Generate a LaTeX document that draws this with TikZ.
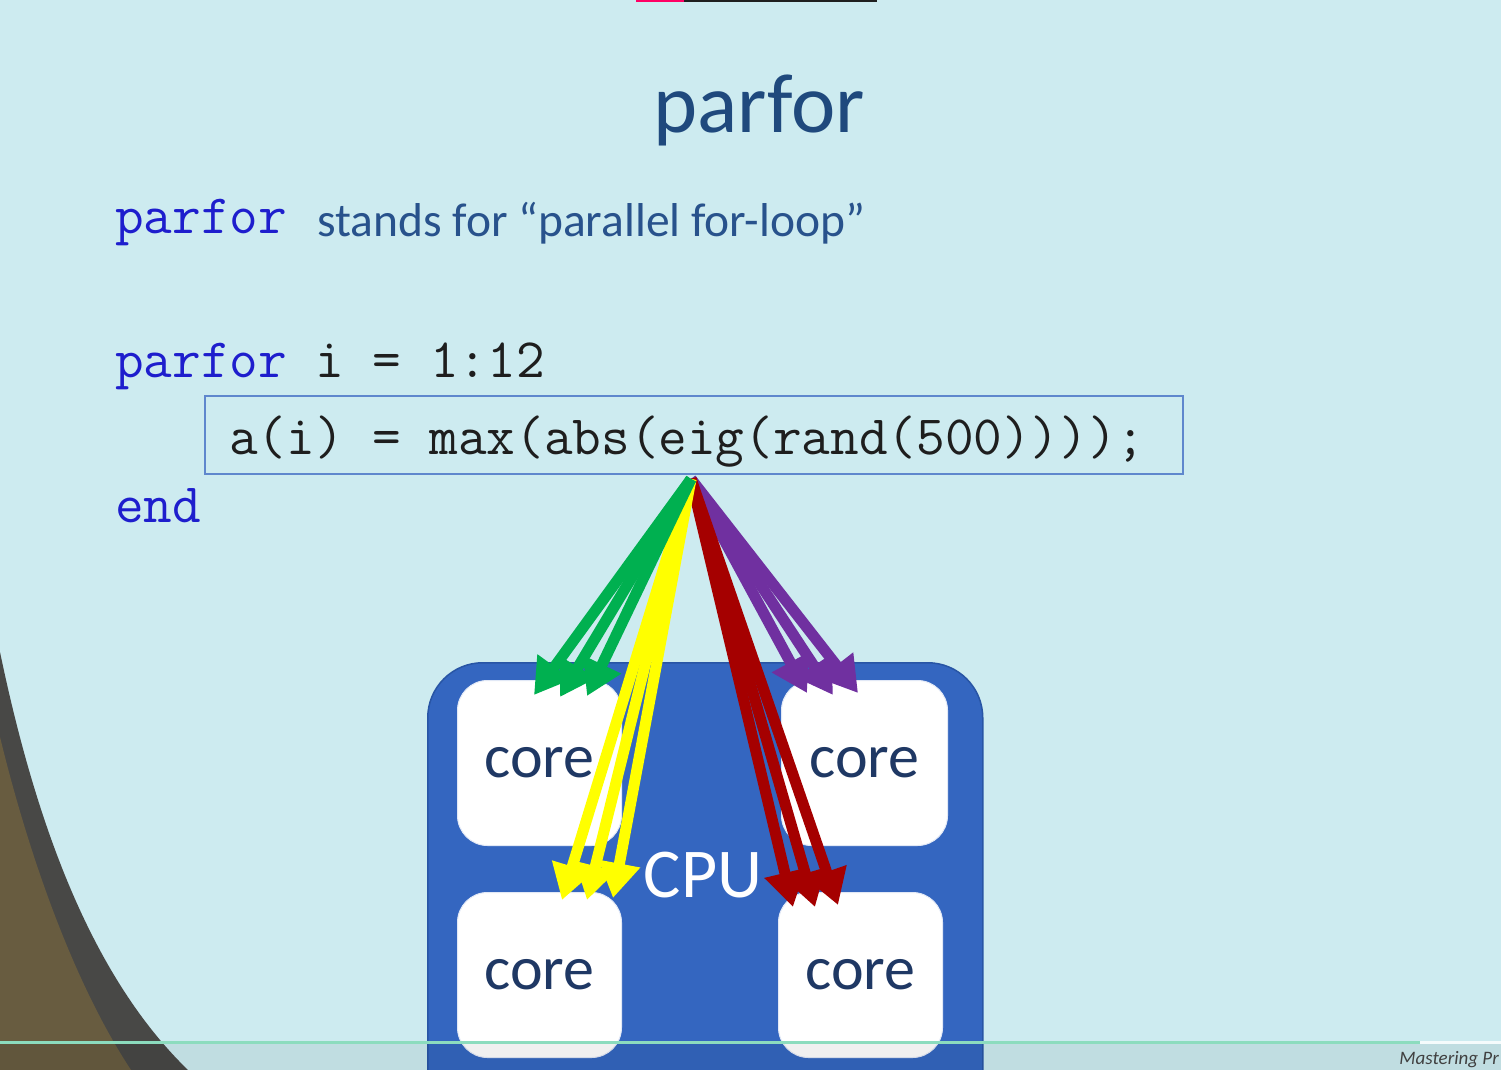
\documentclass[tikz,border=0pt]{standalone}
\usepackage{fontspec}
\setmainfont{Carlito}
\usetikzlibrary{arrows.meta}

\definecolor{slidebg}{RGB}{205,235,240}
\definecolor{titleblue}{RGB}{31,73,125}
\definecolor{descblue}{RGB}{40,82,140}
\definecolor{kwblue}{RGB}{30,30,205}
\definecolor{codegray}{RGB}{30,30,30}
\definecolor{boxline}{RGB}{95,135,205}
\definecolor{cpublue}{RGB}{52,102,192}
\definecolor{cpuedge}{RGB}{40,85,165}
\definecolor{corenavy}{RGB}{31,56,100}
\definecolor{agreen}{RGB}{0,176,80}
\definecolor{ayellow}{RGB}{255,255,0}
\definecolor{ared}{RGB}{165,0,0}
\definecolor{apurple}{RGB}{112,48,160}
\definecolor{hillbrown}{RGB}{104,92,64}
\definecolor{hilldark}{RGB}{72,72,70}
\definecolor{barpink}{RGB}{255,0,100}
\definecolor{bargreen}{RGB}{140,220,190}

\newcommand{\kw}[1]{\textcolor{kwblue}{#1}}

\tikzset{
  mono/.style={font=\fontsize{55.6}{55.6}\selectfont\ttfamily, text=codegray, inner sep=0pt, anchor=base west},
  corebox/.style={fill=white, draw=white!85!cpublue, line width=1pt, rounded corners=30pt,
    minimum width=164pt, minimum height=165pt, anchor=north west,
    font=\fontsize{62}{62}\selectfont, text=corenavy},
  parrow/.style={line width=11pt, -{Triangle[width=40pt,length=35pt]}},
}

\begin{document}
\begin{tikzpicture}[x=1pt,y=-1pt]
  \useasboundingbox (0,0) rectangle (1501,1070);
  \clip (0,0) rectangle (1501,1070);
  \fill[slidebg] (0,0) rectangle (1501,1070);

  % hill in the lower left corner
  \fill[hilldark] (0,652) .. controls (35,820) and (90,975) .. (188,1070) -- (0,1070) -- cycle;
  \fill[hillbrown] (0,737) .. controls (30,860) and (75,985) .. (131,1070) -- (0,1070) -- cycle;

  % title and description
  \node[font=\fontsize{84}{84}\selectfont, text=titleblue, anchor=base, inner sep=0pt] (title) at (759,132) {parfor};
  \node[mono, text=kwblue] (kwparfor) at (115,233) {parfor};
  \node[font=\fontsize{47.5}{47.5}\selectfont, text=descblue, anchor=base west, inner sep=0pt] (desc) at (317,236) {stands for “parallel for-loop”};

  % code listing
  \node[mono] (loophead) at (115,377) {\kw{parfor} i = 1:12};
  \node[draw=boxline, line width=2pt, anchor=north west, minimum width=978pt, minimum height=78pt, inner sep=0pt] (code) at (204,395) {};
  \node[mono] (stmt) at (229,454) {a(i) = max(abs(eig(rand(500))));};
  \node[mono, text=kwblue] (loopend) at (115,522) {end};

  % processor with four cores
  \node[fill=cpublue, draw=cpuedge, line width=1.5pt, rounded corners=55pt, minimum width=555pt, minimum height=470pt, anchor=north west] (cpu) at (427,662) {};
  \node[corebox] (c1) at (457,680) {core};
  \node[corebox, minimum width=166pt] (c2) at (781,680) {core};
  \node[corebox] (c3) at (457,892) {core};
  \node[corebox] (c4) at (778,892) {core};
  \node[font=\fontsize{70}{70}\selectfont, text=white, inner sep=0pt] (cpulabel) at (703,875) {CPU};

  % iterations dispatched to the cores
  \coordinate (src) at ([xshift=-3pt,yshift=-4pt]code.south);
  \coordinate (g1) at (534,695);
  \coordinate (g2) at (560,697);
  \coordinate (g3) at (587,696);
  \coordinate (y1) at (562,900);
  \coordinate (y2) at (587,900);
  \coordinate (y3) at (613,898);
  \coordinate (r1) at (793,907);
  \coordinate (r2) at (815,907);
  \coordinate (r3) at (838,905);
  \coordinate (p1) at (807,693);
  \coordinate (p2) at (833,695);
  \coordinate (p3) at (858,693);

  \foreach \t in {p3,p2,p1} \draw[parrow, apurple] (src) -- (\t);
  \foreach \t in {r3,r2,r1} \draw[parrow, ared] (src) -- (\t);
  \foreach \t in {y3,y2,y1} \draw[parrow, ayellow] (src) -- (\t);
  \foreach \t in {g3,g2,g1} \draw[parrow, agreen] (src) -- (\t);

  % player overlay along the edges
  \fill[black, opacity=0.06] (0,1044) rectangle (1501,1070);
  \fill[bargreen] (0,1041) rectangle (1420,1044);
  \fill[white!80!slidebg] (1420,1041) rectangle (1501,1044);
  \fill[black!88] (636,0) rectangle (877,2);
  \fill[barpink] (636,0) rectangle (684,2);
  \node[font=\fontsize{19}{19}\selectfont\itshape, text=black!75, anchor=base east, inner sep=0pt] (brand) at (1499,1064) {Mastering Pr};
\end{tikzpicture}
\end{document}
